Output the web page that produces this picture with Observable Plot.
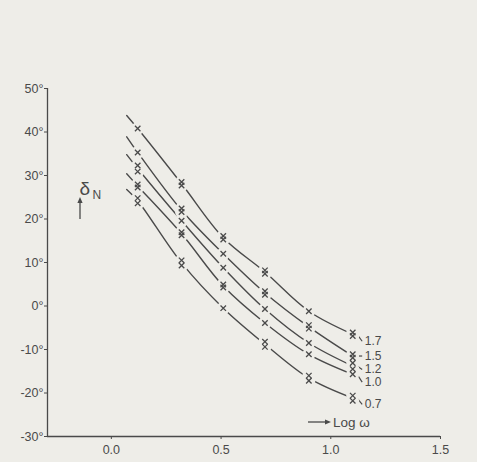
<!DOCTYPE html>
<html>
<head>
<meta charset="utf-8">
<script src="https://cdn.jsdelivr.net/npm/d3@7"></script>
<script src="https://cdn.jsdelivr.net/npm/@observablehq/plot@0.6"></script>
<style>
  html, body { margin: 0; padding: 0; background: #eeede8; }
  #chart { width: 477px; height: 462px; }
</style>
</head>
<body>
<div id="chart"></div>
<script>
// Phase angle δN against log ω for several values of q
const qLabels = ["1.7", "1.5", "1.2", "1.0", "0.7"];
const logOmega = [0.12, 0.32, 0.51, 0.70, 0.90, 1.10];
const delta17 = [40.8, 28.1, 15.7, 7.8, -1.2, -6.5];
const delta15 = [35.3, 22.0, 12.0, 3.0, -4.8, -11.5];
const delta12 = [31.6, 19.6, 8.8, -0.7, -8.5, -13.8];
const delta10 = [27.6, 16.6, 4.6, -3.9, -11.1, -15.7];
const delta07 = [24.2, 9.9, -0.5, -8.8, -16.6, -21.2];
// where each curve is started, left of the first reading
const leadLogOmega = 0.07;
const leadDelta = [43.8, 38.9, 34.8, 30.4, 26.8];
// readings taken twice (index into logOmega), with the spread of the pair in degrees
const doubled = [[1, 2, 3, 5], [1, 3, 4, 5], [0, 5], [0, 1, 2], [0, 1, 3, 4, 5]];
const pairSpread = [0.8, 0.8, 1.4, 0.7, 1.2];
const yTicks = [-30, -20, -10, 0, 10, 20, 30, 40, 50];
const xTicks = [0.0, 0.5, 1.0, 1.5];

const series = [delta17, delta15, delta12, delta10, delta07];
const ink = "#4a4a4a";
const paper = "#eeede8";

// label placement next to the last reading (degrees below it)
const labelDrop = [1.6, 0.0, 0.8, 1.8, 1.4];

const curvePts = [];
const readings = [];
const labels = [];
series.forEach((vals, i) => {
  curvePts.push({q: qLabels[i], x: leadLogOmega, y: leadDelta[i]});
  vals.forEach((v, j) => {
    curvePts.push({q: qLabels[i], x: logOmega[j], y: v});
    if (doubled[i].includes(j)) {
      readings.push({x: logOmega[j], y: v + pairSpread[i] / 2});
      readings.push({x: logOmega[j], y: v - pairSpread[i] / 2});
    } else {
      readings.push({x: logOmega[j], y: v});
    }
  });
  const lx = logOmega[logOmega.length - 1], ly = vals[vals.length - 1];
  labels.push({q: qLabels[i], x: lx, y: ly, ly: ly - labelDrop[i]});
});

const xDomain = [-0.291, 1.5];

// small drawn annotations: the δN arrow and the "Log ω" arrow
function arrows(index, scales, values, dims) {
  const g = d3.create("svg:g").attr("stroke", ink).attr("fill", ink);
  const ax = dims.marginLeft + 33, ay0 = dims.marginTop + 131, ay1 = dims.marginTop + 109;
  g.append("line").attr("x1", ax).attr("x2", ax).attr("y1", ay0).attr("y2", ay1 + 4).attr("stroke-width", 1.3);
  g.append("path").attr("d", `M${ax},${ay1} l-2.6,6 l5.2,0 z`).attr("stroke", "none");
  const bx0 = dims.width - dims.marginRight - 132, bx1 = bx0 + 23, by = dims.height - dims.marginBottom - 14;
  g.append("line").attr("x1", bx0).attr("x2", bx1 - 4).attr("y1", by).attr("y2", by).attr("stroke-width", 1.3);
  g.append("path").attr("d", `M${bx1},${by} l-6,-2.6 l0,5.2 z`).attr("stroke", "none");
  g.append("text").attr("x", bx1 + 2).attr("y", by).attr("dy", "0.35em")
    .attr("text-anchor", "start").attr("stroke", "none").attr("font-size", 13.5).text("Log ω");
  return g.node();
}

const chart = Plot.plot({
  width: 477,
  height: 462,
  marginLeft: 47,
  marginRight: 37,
  marginTop: 88,
  marginBottom: 26,
  x: {domain: xDomain},
  y: {domain: [-30, 50]},
  style: {background: "transparent", color: ink, fontFamily: "'Liberation Sans', Arial, sans-serif", fontSize: "12px"},
  marks: [
    Plot.ruleX([xDomain[0]], {y1: -30, y2: 50, stroke: ink, strokeWidth: 1.3}),
    Plot.ruleY([-30], {x1: xDomain[0], x2: 1.5, stroke: ink, strokeWidth: 1.3}),
    Plot.axisY({ticks: yTicks, tickFormat: d => d + "°", tickSize: 3, tickPadding: 1, label: null, fontSize: 12.5}),
    Plot.axisX({ticks: xTicks, tickFormat: d3.format(".1f"), tickSize: 3, tickPadding: 6, label: null, fontSize: 12.5}),
    Plot.line(curvePts, {x: "x", y: "y", z: "q", curve: "catmull-rom", stroke: ink, strokeWidth: 1.4}),
    // leader from the last reading to its q label
    Plot.link(labels, {x1: d => d.x + 0.02, y1: "y", x2: d => d.x + 0.043, y2: "ly", stroke: ink, strokeWidth: 1.2}),
    // paper-coloured halo opens a gap in the curve around each reading
    Plot.dot(readings, {x: "x", y: "y", r: 6.5, fill: paper, stroke: "none"}),
    Plot.dot(readings, {x: "x", y: "y", r: 2.6, symbol: "times", stroke: ink, strokeWidth: 1.3}),
    Plot.text(labels, {x: "x", y: "ly", text: "q", dx: 12, textAnchor: "start", fontSize: 12, fill: ink}),
    Plot.text(["δ"], {frameAnchor: "top-left", dx: 32, dy: 93, fontSize: 19, fill: ink}),
    Plot.text(["N"], {frameAnchor: "top-left", dx: 45, dy: 102, fontSize: 12, fill: ink}),
    arrows
  ]
});

document.getElementById("chart").appendChild(chart);
</script>
</body>
</html>
